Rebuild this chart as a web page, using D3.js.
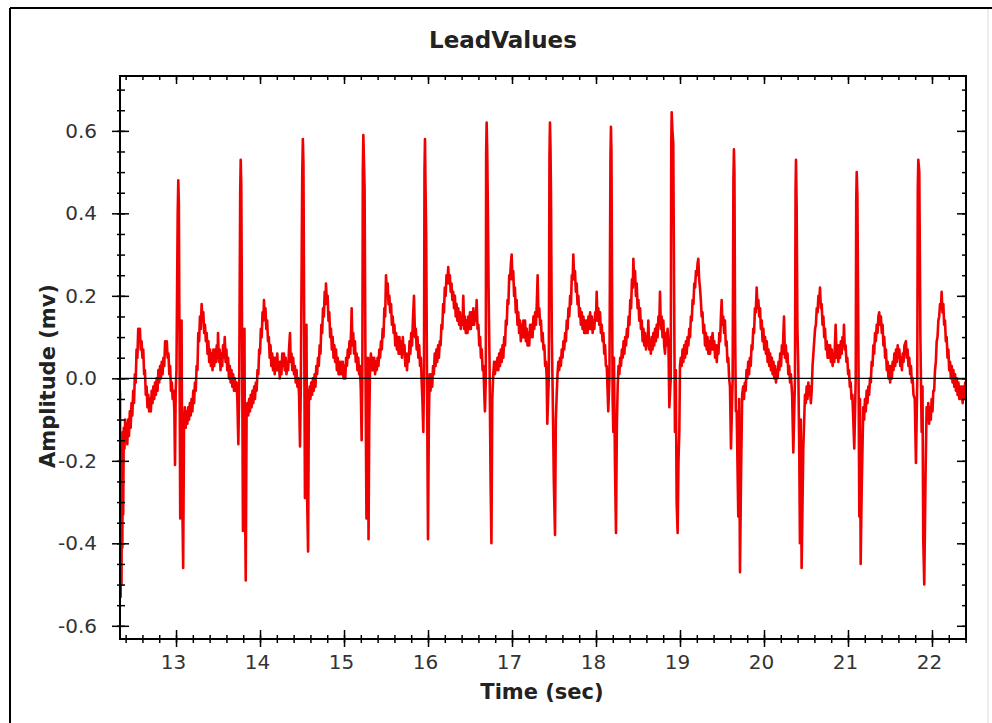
<!DOCTYPE html>
<html>
<head>
<meta charset="utf-8">
<script src="https://cdn.jsdelivr.net/npm/d3@7"></script>
<style>
  body { margin: 0; background: #fff; }
  svg { display: block; font-family: "DejaVu Sans", sans-serif; }
  .tick line { stroke: #000; stroke-width: 1.5; }
</style>
</head>
<body>
<div id="chart"></div>
<script>
// titles
const chartTitle = "LeadValues";
const xTitle = "Time (sec)";
const yTitle = "Amplitude (mv)";

// axes
const xRange = [12.333, 22.405];
const yRange = [-0.632, 0.733];
const xMajorTicks = [13, 14, 15, 16, 17, 18, 19, 20, 21, 22];
const yMajorTicks = [-0.6, -0.4, -0.2, 0.0, 0.2, 0.4, 0.6];

// lead signal, [time (sec), amplitude (mv)]
const leadValues = [
  [12.333,-0.03],[12.337,-0.35],[12.341,-0.53],[12.346,-0.22],[12.351,-0.50],[12.356,-0.18],[12.361,-0.41],[12.366,-0.13],[12.371,-0.33],[12.378,-0.12],[12.386,-0.17],[12.394,-0.10],[12.402,-0.15],[12.41,-0.11],[12.42,-0.16],[12.43,-0.10],[12.44,-0.14],[12.45,-0.08],[12.46,-0.12],[12.47,-0.06],[12.48,-0.09],[12.49,-0.03],[12.50,-0.06],[12.51,0.01],[12.52,-0.01],[12.53,0.07],[12.54,0.05],[12.55,0.12],[12.56,0.09],[12.57,0.12],[12.58,0.07],[12.59,0.09],[12.60,0.05],[12.61,0.07],[12.62,0.01],[12.63,0.02],[12.64,-0.04],[12.65,-0.02],[12.66,-0.07],[12.67,-0.04],[12.68,-0.08],[12.69,-0.05],[12.70,-0.08],[12.71,-0.03],[12.72,-0.06],[12.73,-0.02],[12.74,-0.05],[12.75,-0.01],[12.76,-0.04],[12.77,0.00],[12.78,-0.03],[12.79,0.02],[12.80,-0.01],[12.81,0.03],[12.82,0.00],[12.83,0.04],[12.84,0.01],[12.85,0.05],[12.86,0.03],[12.87,0.09],[12.88,0.06],[12.89,0.09],[12.90,0.05],[12.91,0.06],[12.92,0.01],[12.93,0.03],[12.94,-0.03],[12.95,-0.01],[12.96,-0.05],[12.97,-0.03],[12.98,-0.08],[12.988,-0.21],[12.996,-0.03],[13.005,0.02],
  [13.02,0.40],[13.027,0.48],[13.034,0.42],[13.04,0.14],[13.05,-0.34],[13.058,-0.08],[13.066,0.14],[13.075,-0.30],[13.085,-0.46],[13.095,-0.11],
  [13.105,-0.07],[13.115,-0.12],[13.125,-0.08],[13.135,-0.11],[13.145,-0.07],[13.155,-0.10],[13.165,-0.06],[13.175,-0.09],[13.185,-0.05],[13.195,-0.08],[13.205,-0.03],[13.215,-0.06],[13.225,-0.01],[13.235,-0.03],[13.245,0.03],[13.255,0.02],[13.265,0.11],[13.275,0.09],[13.285,0.15],[13.295,0.12],[13.305,0.18],[13.315,0.14],[13.325,0.16],[13.335,0.11],[13.345,0.13],[13.355,0.09],[13.365,0.11],[13.375,0.06],[13.385,0.09],[13.395,0.04],[13.405,0.07],[13.415,0.03],[13.425,0.06],[13.435,0.02],[13.445,0.07],[13.455,0.03],[13.465,0.07],[13.475,0.04],[13.485,0.08],[13.495,0.05],[13.50,0.11],[13.51,0.04],[13.52,0.07],[13.53,0.02],[13.54,0.06],[13.55,0.03],[13.56,0.08],[13.57,0.05],[13.58,0.10],[13.59,0.04],[13.60,0.07],[13.61,0.02],[13.62,0.05],[13.63,0.00],[13.64,0.03],[13.65,-0.01],[13.66,0.02],[13.67,-0.02],[13.68,0.01],[13.69,-0.03],[13.70,0.00],[13.71,-0.03],[13.72,-0.01],[13.73,-0.05],[13.742,-0.16],[13.752,-0.02],
  [13.764,0.45],[13.770,0.53],[13.777,0.47],[13.785,0.15],[13.797,-0.37],[13.806,-0.06],[13.815,0.12],[13.822,-0.30],[13.830,-0.49],[13.84,-0.09],
  [13.85,-0.06],[13.86,-0.09],[13.87,-0.05],[13.88,-0.08],[13.89,-0.04],[13.90,-0.07],[13.91,-0.03],[13.92,-0.06],[13.93,-0.02],[13.94,-0.05],[13.95,-0.01],[13.96,-0.03],[13.97,0.02],[13.98,0.01],[13.99,0.07],[14.00,0.06],[14.01,0.12],[14.02,0.10],[14.03,0.16],[14.04,0.14],[14.047,0.19],[14.055,0.15],[14.065,0.17],[14.075,0.12],[14.085,0.14],[14.095,0.09],[14.105,0.10],[14.115,0.05],[14.125,0.08],[14.135,0.03],[14.145,0.06],[14.155,0.02],[14.165,0.05],[14.175,0.01],[14.185,0.05],[14.195,0.02],[14.205,0.06],[14.215,0.02],[14.225,0.04],[14.235,0.00],[14.245,0.04],[14.255,0.01],[14.265,0.06],[14.275,0.03],[14.285,0.06],[14.295,0.02],[14.305,0.05],[14.315,0.01],[14.325,0.04],[14.335,0.02],[14.345,0.07],[14.357,0.11],[14.365,0.04],[14.375,0.06],[14.385,0.02],[14.395,0.05],[14.405,0.01],[14.415,0.03],[14.425,-0.01],[14.435,0.02],[14.445,-0.02],[14.455,0.00],[14.465,-0.04],[14.476,-0.165],[14.486,-0.01],
  [14.503,0.50],[14.510,0.58],[14.517,0.52],[14.525,0.16],[14.535,-0.29],[14.545,-0.05],[14.553,0.13],[14.562,-0.30],[14.572,-0.42],[14.582,-0.04],
  [14.592,-0.02],[14.60,-0.05],[14.61,-0.01],[14.62,-0.04],[14.63,0.00],[14.64,-0.03],[14.65,0.01],[14.66,-0.02],[14.67,0.03],[14.68,0.01],[14.69,0.05],[14.70,0.03],[14.71,0.08],[14.72,0.06],[14.73,0.13],[14.74,0.11],[14.75,0.17],[14.76,0.15],[14.77,0.21],[14.78,0.18],[14.785,0.23],[14.795,0.19],[14.805,0.20],[14.815,0.14],[14.825,0.16],[14.835,0.10],[14.845,0.12],[14.855,0.07],[14.865,0.10],[14.875,0.05],[14.885,0.08],[14.895,0.04],[14.905,0.07],[14.915,0.02],[14.925,0.05],[14.935,0.01],[14.945,0.04],[14.955,0.01],[14.965,0.04],[14.975,0.01],[14.985,0.04],[14.995,0.00],[15.005,0.03],[15.015,0.00],[15.025,0.05],[15.035,0.03],[15.045,0.07],[15.055,0.05],[15.065,0.09],[15.075,0.06],[15.085,0.12],[15.091,0.17],[15.10,0.08],[15.11,0.11],[15.12,0.06],[15.13,0.09],[15.14,0.04],[15.15,0.06],[15.16,0.02],[15.17,0.05],[15.18,0.01],[15.19,0.03],[15.20,-0.03],[15.21,-0.15],[15.218,0.00],
  [15.224,0.50],[15.230,0.59],[15.237,0.53],[15.245,0.46],[15.255,0.05],[15.267,-0.34],[15.276,-0.05],[15.284,0.05],[15.292,-0.39],[15.30,-0.12],[15.31,0.03],
  [15.32,0.06],[15.33,0.02],[15.34,0.05],[15.35,0.02],[15.36,0.05],[15.37,0.01],[15.38,0.04],[15.39,0.02],[15.40,0.05],[15.41,0.03],[15.42,0.07],[15.43,0.05],[15.44,0.09],[15.45,0.07],[15.46,0.12],[15.47,0.10],[15.48,0.17],[15.49,0.15],[15.50,0.25],[15.51,0.20],[15.52,0.23],[15.53,0.18],[15.54,0.20],[15.55,0.16],[15.56,0.18],[15.57,0.13],[15.58,0.15],[15.59,0.11],[15.60,0.13],[15.61,0.08],[15.62,0.11],[15.63,0.07],[15.64,0.10],[15.65,0.06],[15.66,0.10],[15.67,0.06],[15.68,0.09],[15.69,0.05],[15.70,0.10],[15.71,0.06],[15.72,0.08],[15.73,0.03],[15.74,0.06],[15.75,0.02],[15.76,0.06],[15.77,0.04],[15.78,0.09],[15.79,0.06],[15.80,0.11],[15.81,0.08],[15.82,0.14],[15.833,0.20],[15.845,0.10],[15.855,0.12],[15.865,0.07],[15.875,0.10],[15.885,0.05],[15.895,0.08],[15.905,0.03],[15.915,0.05],[15.925,-0.01],[15.933,-0.05],[15.944,-0.13],[15.952,0.00],
  [15.958,0.50],[15.964,0.58],[15.970,0.47],[15.978,0.35],[15.988,0.00],[16.0,-0.39],[16.01,-0.10],[16.02,0.01],
  [16.03,-0.03],[16.04,0.01],[16.05,-0.02],[16.06,0.03],[16.07,0.01],[16.08,0.06],[16.09,0.03],[16.10,0.07],[16.11,0.04],[16.12,0.08],[16.13,0.05],[16.14,0.09],[16.15,0.08],[16.16,0.13],[16.17,0.12],[16.18,0.18],[16.19,0.16],[16.20,0.22],[16.21,0.20],[16.22,0.25],[16.23,0.23],[16.241,0.27],[16.25,0.23],[16.26,0.25],[16.27,0.21],[16.28,0.23],[16.29,0.19],[16.30,0.21],[16.31,0.17],[16.32,0.20],[16.33,0.15],[16.34,0.18],[16.35,0.14],[16.36,0.17],[16.37,0.13],[16.38,0.16],[16.39,0.12],[16.40,0.15],[16.41,0.13],[16.42,0.20],[16.43,0.12],[16.44,0.15],[16.45,0.11],[16.46,0.14],[16.47,0.11],[16.48,0.15],[16.49,0.12],[16.50,0.16],[16.51,0.12],[16.52,0.16],[16.53,0.13],[16.54,0.17],[16.55,0.13],[16.56,0.16],[16.57,0.14],[16.579,0.19],[16.59,0.12],[16.60,0.13],[16.61,0.08],[16.62,0.10],[16.63,0.05],[16.64,0.07],[16.65,0.02],[16.66,0.03],[16.672,-0.05],[16.678,-0.08],[16.688,0.00],
  [16.692,0.54],[16.698,0.62],[16.705,0.55],[16.713,0.40],[16.722,0.20],[16.732,0.05],[16.745,-0.25],[16.755,-0.40],[16.765,-0.05],[16.777,0.01],
  [16.787,0.04],[16.797,0.01],[16.807,0.04],[16.817,0.02],[16.827,0.05],[16.837,0.02],[16.847,0.06],[16.857,0.03],[16.867,0.07],[16.877,0.04],[16.887,0.08],[16.897,0.05],[16.907,0.10],[16.917,0.08],[16.927,0.14],[16.937,0.13],[16.947,0.19],[16.957,0.18],[16.967,0.25],[16.977,0.24],[16.987,0.28],[16.996,0.30],[17.005,0.24],[17.015,0.26],[17.025,0.20],[17.035,0.22],[17.045,0.16],[17.055,0.19],[17.065,0.13],[17.075,0.16],[17.085,0.11],[17.095,0.14],[17.105,0.09],[17.115,0.13],[17.125,0.10],[17.135,0.14],[17.145,0.10],[17.155,0.14],[17.165,0.09],[17.175,0.12],[17.185,0.08],[17.195,0.11],[17.205,0.08],[17.215,0.13],[17.225,0.10],[17.235,0.13],[17.245,0.10],[17.255,0.15],[17.265,0.12],[17.275,0.16],[17.285,0.13],[17.295,0.18],[17.305,0.25],[17.315,0.15],[17.325,0.17],[17.335,0.13],[17.345,0.14],[17.355,0.09],[17.365,0.11],[17.375,0.07],[17.385,0.08],[17.395,0.03],[17.405,0.04],[17.413,0.00],[17.42,-0.11],[17.438,0.00],
  [17.446,0.54],[17.452,0.62],[17.458,0.56],[17.464,0.45],[17.474,0.10],[17.484,-0.03],[17.498,-0.25],[17.512,-0.38],[17.522,-0.10],[17.532,-0.04],
  [17.542,0.01],[17.552,0.04],[17.562,0.02],[17.572,0.05],[17.582,0.03],[17.592,0.07],[17.602,0.05],[17.612,0.09],[17.622,0.07],[17.632,0.11],[17.642,0.09],[17.652,0.14],[17.662,0.12],[17.672,0.17],[17.682,0.15],[17.692,0.20],[17.702,0.18],[17.712,0.25],[17.722,0.24],[17.73,0.30],[17.74,0.24],[17.75,0.26],[17.76,0.21],[17.77,0.23],[17.78,0.18],[17.79,0.20],[17.80,0.15],[17.81,0.17],[17.82,0.13],[17.83,0.16],[17.84,0.12],[17.85,0.15],[17.86,0.11],[17.87,0.14],[17.88,0.11],[17.89,0.14],[17.90,0.11],[17.91,0.15],[17.92,0.12],[17.93,0.16],[17.94,0.12],[17.95,0.15],[17.96,0.11],[17.97,0.14],[17.98,0.12],[17.99,0.16],[18.00,0.14],[18.008,0.21],[18.018,0.14],[18.028,0.17],[18.038,0.13],[18.048,0.16],[18.058,0.11],[18.068,0.13],[18.078,0.09],[18.088,0.11],[18.098,0.06],[18.108,0.08],[18.118,0.03],[18.128,0.03],[18.138,-0.03],[18.146,-0.08],[18.16,0.00],
  [18.172,0.53],[18.178,0.61],[18.184,0.55],[18.19,0.27],[18.198,-0.05],[18.206,-0.13],[18.214,0.05],[18.226,-0.21],[18.238,-0.375],[18.248,-0.12],[18.258,-0.02],
  [18.268,0.03],[18.278,0.01],[18.288,0.05],[18.298,0.03],[18.308,0.07],[18.318,0.05],[18.328,0.09],[18.338,0.06],[18.348,0.10],[18.358,0.08],[18.368,0.12],[18.378,0.10],[18.388,0.15],[18.398,0.13],[18.408,0.19],[18.418,0.17],[18.428,0.24],[18.438,0.22],[18.445,0.29],[18.455,0.23],[18.465,0.26],[18.475,0.20],[18.485,0.23],[18.495,0.17],[18.505,0.19],[18.515,0.14],[18.525,0.17],[18.535,0.12],[18.545,0.14],[18.555,0.09],[18.565,0.12],[18.575,0.08],[18.585,0.11],[18.595,0.07],[18.605,0.10],[18.615,0.08],[18.623,0.14],[18.633,0.07],[18.643,0.09],[18.653,0.06],[18.663,0.10],[18.673,0.07],[18.683,0.11],[18.693,0.08],[18.703,0.12],[18.713,0.09],[18.723,0.13],[18.733,0.10],[18.743,0.15],[18.753,0.13],[18.762,0.21],[18.772,0.12],[18.782,0.15],[18.792,0.10],[18.802,0.14],[18.812,0.08],[18.822,0.06],[18.832,0.11],[18.842,0.08],[18.852,0.12],[18.862,0.09],[18.873,-0.07],[18.89,0.00],
  [18.896,0.57],[18.901,0.645],[18.91,0.60],[18.92,0.57],[18.93,0.20],[18.94,-0.13],[18.95,0.02],[18.96,-0.30],[18.972,-0.375],[18.982,-0.20],[18.992,-0.13],[19.0,0.03],
  [19.01,0.05],[19.02,0.03],[19.03,0.07],[19.04,0.04],[19.05,0.08],[19.06,0.05],[19.07,0.09],[19.08,0.06],[19.09,0.10],[19.10,0.08],[19.11,0.12],[19.12,0.10],[19.13,0.15],[19.14,0.14],[19.15,0.19],[19.16,0.18],[19.17,0.23],[19.18,0.22],[19.19,0.26],[19.20,0.25],[19.21,0.28],[19.218,0.29],[19.228,0.24],[19.238,0.22],[19.248,0.19],[19.258,0.15],[19.268,0.16],[19.278,0.11],[19.288,0.13],[19.298,0.08],[19.308,0.11],[19.318,0.07],[19.328,0.10],[19.338,0.06],[19.348,0.09],[19.358,0.06],[19.368,0.10],[19.378,0.07],[19.388,0.11],[19.398,0.07],[19.408,0.09],[19.418,0.05],[19.428,0.08],[19.438,0.04],[19.448,0.08],[19.458,0.06],[19.468,0.11],[19.478,0.09],[19.487,0.15],[19.496,0.19],[19.505,0.13],[19.515,0.15],[19.525,0.11],[19.535,0.14],[19.545,0.08],[19.555,0.09],[19.565,0.04],[19.575,0.05],[19.585,0.00],[19.595,-0.02],[19.607,-0.17],[19.627,0.00],
  [19.636,0.48],[19.642,0.555],[19.648,0.50],[19.655,0.16],[19.665,-0.08],[19.675,-0.08],[19.694,-0.335],[19.704,-0.05],[19.714,-0.47],[19.726,-0.25],[19.74,-0.04],
  [19.752,-0.02],[19.762,-0.05],[19.772,-0.01],[19.782,-0.03],[19.792,0.02],[19.802,0.00],[19.812,0.04],[19.822,0.01],[19.832,0.05],[19.842,0.03],[19.852,0.08],[19.862,0.07],[19.872,0.12],[19.882,0.11],[19.892,0.17],[19.902,0.16],[19.913,0.22],[19.923,0.17],[19.933,0.19],[19.943,0.15],[19.953,0.17],[19.963,0.12],[19.973,0.14],[19.983,0.09],[19.993,0.12],[20.003,0.07],[20.013,0.10],[20.023,0.06],[20.033,0.09],[20.043,0.04],[20.053,0.07],[20.063,0.03],[20.073,0.06],[20.083,0.02],[20.093,0.05],[20.103,0.01],[20.113,0.04],[20.123,0.00],[20.133,0.03],[20.143,-0.01],[20.153,0.02],[20.163,0.00],[20.173,0.04],[20.183,0.02],[20.193,0.06],[20.203,0.03],[20.213,0.08],[20.223,0.06],[20.238,0.15],[20.25,0.05],[20.26,0.08],[20.27,0.04],[20.28,0.06],[20.29,0.01],[20.30,0.03],[20.31,-0.01],[20.32,0.01],[20.335,-0.04],[20.349,-0.18],[20.369,0.00],
  [20.376,0.46],[20.381,0.53],[20.389,0.41],[20.398,0.12],[20.408,0.03],[20.42,-0.18],[20.428,-0.40],[20.438,-0.10],[20.448,-0.46],[20.468,-0.17],[20.488,-0.04],
  [20.498,-0.06],[20.508,-0.02],[20.518,-0.05],[20.528,-0.01],[20.538,-0.04],[20.548,-0.02],[20.558,-0.06],[20.568,-0.03],[20.578,0.03],[20.588,0.06],[20.598,0.09],[20.608,0.12],[20.618,0.13],[20.628,0.17],[20.638,0.16],[20.648,0.20],[20.658,0.19],[20.667,0.22],[20.677,0.17],[20.687,0.18],[20.697,0.13],[20.707,0.15],[20.717,0.10],[20.727,0.12],[20.737,0.07],[20.747,0.09],[20.757,0.05],[20.767,0.08],[20.777,0.05],[20.787,0.08],[20.797,0.04],[20.807,0.07],[20.817,0.03],[20.827,0.06],[20.837,0.04],[20.853,0.13],[20.865,0.05],[20.875,0.08],[20.885,0.04],[20.895,0.08],[20.905,0.05],[20.915,0.09],[20.925,0.06],[20.935,0.10],[20.945,0.08],[20.952,0.13],[20.962,0.07],[20.972,0.08],[20.982,0.04],[20.992,0.05],[21.002,0.01],[21.012,0.02],[21.022,-0.02],[21.032,-0.01],[21.042,-0.05],[21.052,-0.04],[21.063,-0.10],[21.075,-0.17],[21.092,0.00],
  [21.098,0.43],[21.104,0.50],[21.112,0.44],[21.123,0.11],[21.135,-0.335],[21.143,-0.05],[21.151,-0.45],[21.163,-0.27],[21.182,-0.07],
  [21.192,-0.10],[21.202,-0.05],[21.212,-0.08],[21.222,-0.03],[21.232,-0.06],[21.242,-0.02],[21.252,-0.04],[21.262,0.00],[21.272,-0.01],[21.282,0.04],[21.292,0.03],[21.302,0.08],[21.312,0.06],[21.322,0.11],[21.332,0.09],[21.342,0.13],[21.352,0.11],[21.362,0.15],[21.372,0.16],[21.382,0.13],[21.392,0.15],[21.402,0.11],[21.412,0.13],[21.422,0.08],[21.432,0.10],[21.442,0.05],[21.452,0.07],[21.462,0.02],[21.472,0.04],[21.482,0.00],[21.492,0.03],[21.502,-0.01],[21.512,0.03],[21.522,0.00],[21.532,0.04],[21.542,0.02],[21.552,0.06],[21.562,0.03],[21.572,0.07],[21.582,0.04],[21.592,0.08],[21.602,0.05],[21.612,0.07],[21.622,0.03],[21.632,0.05],[21.642,0.02],[21.652,0.06],[21.662,0.04],[21.672,0.08],[21.69,0.09],[21.70,0.05],[21.71,0.07],[21.72,0.03],[21.73,0.05],[21.74,0.01],[21.75,0.03],[21.76,-0.01],[21.77,0.00],[21.78,-0.04],[21.795,-0.05],[21.809,-0.205],[21.825,0.00],
  [21.831,0.46],[21.837,0.53],[21.849,0.50],[21.862,0.10],[21.877,-0.13],[21.887,-0.02],[21.896,-0.39],[21.908,-0.50],[21.925,-0.21],[21.936,-0.07],
  [21.946,-0.10],[21.956,-0.06],[21.966,-0.11],[21.976,-0.07],[21.986,-0.10],[21.996,-0.05],[22.006,-0.08],[22.016,-0.03],[22.026,-0.03],[22.036,0.02],[22.046,0.04],[22.056,0.09],[22.066,0.10],[22.076,0.14],[22.086,0.15],[22.096,0.18],[22.106,0.17],[22.115,0.21],[22.125,0.16],[22.135,0.18],[22.145,0.13],[22.155,0.14],[22.165,0.09],[22.175,0.10],[22.185,0.05],[22.195,0.07],[22.205,0.02],[22.215,0.04],[22.225,0.00],[22.235,0.03],[22.245,-0.01],[22.255,0.02],[22.265,-0.02],[22.275,0.01],[22.285,-0.03],[22.295,0.00],[22.305,-0.04],[22.315,-0.01],[22.325,-0.05],[22.335,-0.02],[22.345,-0.05],[22.355,-0.02],[22.365,-0.06],[22.375,-0.02],[22.385,-0.05],[22.395,-0.01],[22.405,-0.04]
];

const width = 992, height = 723;
const plot = {left: 120, top: 76, right: 966, bottom: 639};

// minor ticks every 0.2 s and every 0.05 mv
const xMinorTicks = d3.range(62, 113).map(i => i / 5);
const yMinorTicks = d3.range(-12, 15).map(i => i / 20);

const xScale = d3.scaleLinear().domain(xRange).range([plot.left, plot.right]);
const yScale = d3.scaleLinear().domain(yRange).range([plot.bottom, plot.top]);

const svg = d3.select("#chart").append("svg")
    .attr("width", width)
    .attr("height", height);

svg.append("rect").attr("width", width).attr("height", height).attr("fill", "#fff");

// outer panel border
svg.append("line").attr("x1", 10).attr("y1", 8).attr("x2", width).attr("y2", 8)
    .attr("stroke", "#000").attr("stroke-width", 2);
svg.append("line").attr("x1", 10).attr("y1", 8).attr("x2", 10).attr("y2", height)
    .attr("stroke", "#000").attr("stroke-width", 2);
svg.append("line").attr("x1", 988).attr("y1", 9).attr("x2", 988).attr("y2", height)
    .attr("stroke", "#dcdcdc").attr("stroke-width", 1);

svg.append("clipPath").attr("id", "clip")
  .append("rect")
    .attr("x", plot.left).attr("y", plot.top)
    .attr("width", plot.right - plot.left).attr("height", plot.bottom - plot.top);

// the signal
const line = d3.line()
    .x(d => xScale(d[0]))
    .y(d => yScale(d[1]));

svg.append("path")
    .datum(leadValues)
    .attr("clip-path", "url(#clip)")
    .attr("fill", "none")
    .attr("stroke", "#f00000")
    .attr("stroke-width", 2.6)
    .attr("stroke-linejoin", "round")
    .attr("d", line);

// zero line
svg.append("line")
    .attr("x1", plot.left).attr("x2", plot.right)
    .attr("y1", yScale(0)).attr("y2", yScale(0))
    .attr("stroke", "#000").attr("stroke-width", 1.2);

// tick helper: one axis group, no domain line
function ticks(axis, values, size, pos, fmt) {
  const g = svg.append("g")
      .attr("transform", pos)
      .call(axis.tickValues(values).tickSizeInner(size).tickSizeOuter(0).tickFormat(fmt || ""));
  g.select(".domain").remove();
  g.attr("font-size", 20).attr("font-family", "DejaVu Sans, sans-serif");
  g.selectAll("text").attr("fill", "#333");
  return g;
}

const atLeft = "translate(" + plot.left + ",0)";
const atRight = "translate(" + plot.right + ",0)";
const atBottom = "translate(0," + plot.bottom + ")";
const atTop = "translate(0," + plot.top + ")";

// left axis, ticks cross the line
const yLabels = ticks(d3.axisLeft(yScale), yMajorTicks, 8, atLeft, d => d.toFixed(1));
yLabels.selectAll("text").attr("x", -23);
ticks(d3.axisRight(yScale), yMajorTicks, 9, atLeft);
ticks(d3.axisLeft(yScale), yMinorTicks, 3, atLeft);
ticks(d3.axisRight(yScale), yMinorTicks, 5, atLeft);

// right axis, inside only
ticks(d3.axisLeft(yScale), yMajorTicks, 9, atRight);
ticks(d3.axisLeft(yScale), yMinorTicks, 4, atRight);

// bottom axis, ticks cross the line
const xLabels = ticks(d3.axisBottom(xScale), xMajorTicks, 8, atBottom, d => d);
xLabels.selectAll("text").attr("x", -3).attr("y", 16);
ticks(d3.axisTop(xScale), xMajorTicks, 9, atBottom);
ticks(d3.axisBottom(xScale), xMinorTicks, 4, atBottom);
ticks(d3.axisTop(xScale), xMinorTicks, 4, atBottom);

// top axis, inside only
ticks(d3.axisBottom(xScale), xMajorTicks, 8, atTop);
ticks(d3.axisBottom(xScale), xMinorTicks, 4, atTop);

// frame
svg.append("rect")
    .attr("x", plot.left).attr("y", plot.top)
    .attr("width", plot.right - plot.left).attr("height", plot.bottom - plot.top)
    .attr("fill", "none").attr("stroke", "#000").attr("stroke-width", 2);

// titles
svg.append("text")
    .attr("x", 503).attr("y", 48)
    .attr("text-anchor", "middle")
    .attr("font-size", 23).attr("font-weight", "bold").attr("fill", "#222")
    .text(chartTitle);

svg.append("text")
    .attr("x", 542).attr("y", 699)
    .attr("text-anchor", "middle")
    .attr("font-size", 21).attr("font-weight", "bold").attr("fill", "#222")
    .text(xTitle);

svg.append("text")
    .attr("transform", "translate(55," + 376 + ")rotate(-90)")
    .attr("text-anchor", "middle")
    .attr("font-size", 21).attr("font-weight", "bold").attr("fill", "#222")
    .text(yTitle);
</script>
</body>
</html>
